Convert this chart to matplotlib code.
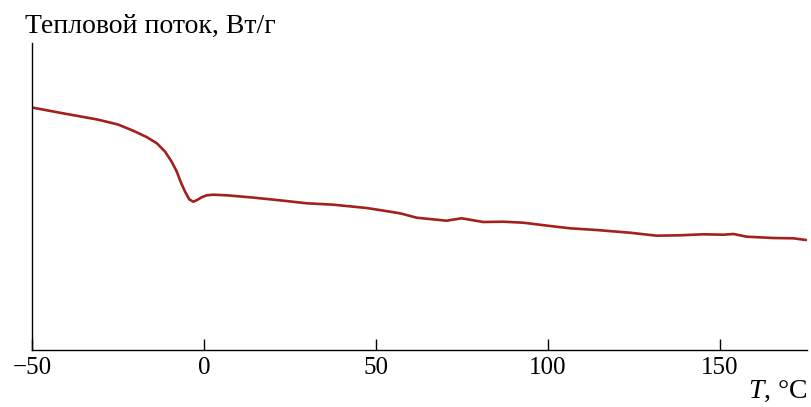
import matplotlib
matplotlib.use("Agg")
import matplotlib.pyplot as plt

plt.rcParams['font.family'] = ['Liberation Serif', 'DejaVu Serif']
plt.rcParams['mathtext.fontset'] = 'custom'
plt.rcParams['mathtext.rm'] = 'Liberation Serif'
plt.rcParams['mathtext.it'] = 'Liberation Serif:italic'

temperature = [-50, -41, -31, -25, -20.6, -16.7, -13.7, -11.3, -9.4, -7.9, -6.8, -5.5,
               -4.3, -3.1, -2.0, -0.7, 0.8, 2.7, 6.6, 13.4, 19.2, 23.1, 29.9, 37.6,
               47.3, 54.1, 57, 61.8, 70.5, 74.9, 81.2, 87, 92.8, 100.6, 106.4, 114.1,
               123.8, 131.6, 138.4, 145.1, 151, 153.9, 157.8, 165.5, 171.3, 175]
heat_flow = [242.5, 236.7, 230.5, 225.5, 219.3, 213, 206.7, 198.3, 188.3, 178.3, 168.3, 158.3,
             150.7, 148.3, 150, 152.7, 154.7, 155.3, 154.7, 152.7, 150.7, 149.3, 146.7, 145.3,
             142, 138.3, 136.7, 132.3, 129.3, 131.7, 128, 128.3, 127.3, 124, 121.7, 120,
             117.3, 114.3, 114.7, 115.7, 115.3, 116, 113.3, 112, 111.7, 110]
xticks = [-50, 0, 50, 100, 150]

fig = plt.figure(figsize=(8.11, 4.07), dpi=100)
ax = fig.add_axes([32/811, (407-350)/407, (807-32)/811, (350-43)/407])
ax.plot(temperature, heat_flow, color='#A3201E', lw=1.9,
        solid_joinstyle='round', solid_capstyle='round')
ax.set_xlim(-50, 175.3)
ax.set_ylim(0, 307)
ax.spines['top'].set_visible(False)
ax.spines['right'].set_visible(False)
ax.spines['left'].set_linewidth(1.0)
ax.spines['bottom'].set_linewidth(1.0)
ax.set_yticks([])
ax.set_xticks(xticks)
ax.set_xticklabels([f"\u2212{abs(t)}" if t < 0 else str(t) for t in xticks])
ax.tick_params(axis='x', direction='in', length=8, width=1.0, labelsize=18, pad=5)
fig.text(25/811, 1 - 26/407, "Тепловой поток, Вт/г", fontsize=20, ha='left', va='center')
fig.text(807/811, 1 - 391/407, r"$T$, °C", fontsize=20, ha='right', va='center')
fig.savefig("out.png", dpi=100)
